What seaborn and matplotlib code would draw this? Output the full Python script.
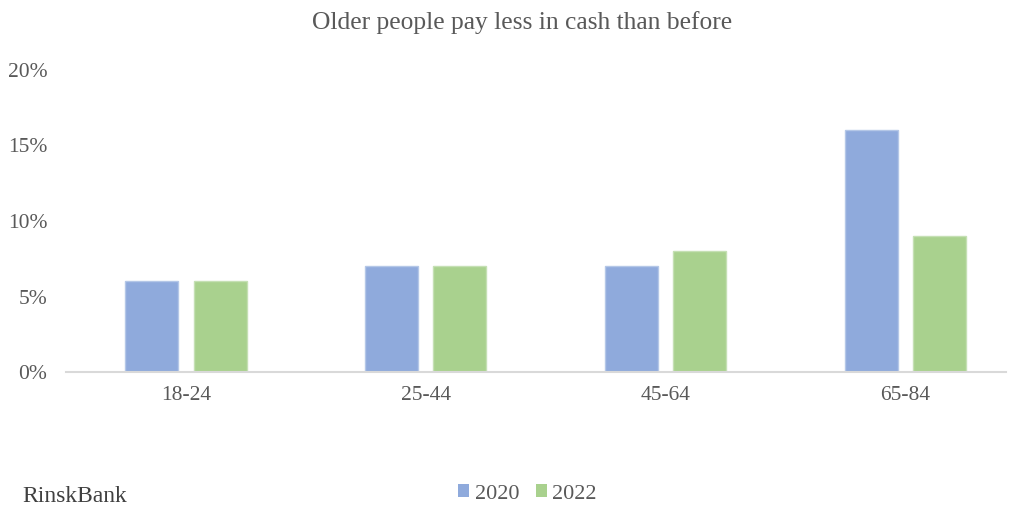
import matplotlib
matplotlib.use("Agg")
import matplotlib.pyplot as plt
import seaborn as sns
import pandas as pd
from matplotlib.ticker import FuncFormatter
from matplotlib.patches import Patch

categories = ["18-24", "25-44", "45-64", "65-84"]
values_2020 = [6, 7, 7, 16]
values_2022 = [6, 7, 8, 9]
series_names = ["2020", "2022"]
title = "Older people pay less in cash than before"
source = "RinskBank"

df = pd.DataFrame({
    "age": categories * 2,
    "value": values_2020 + values_2022,
    "year": [series_names[0]] * len(categories) + [series_names[1]] * len(categories),
})

sns.set_theme(style="white")
plt.rcParams["font.family"] = ["Liberation Serif", "DejaVu Serif"]
text_color = "#595959"

fig = plt.figure(figsize=(10.15, 5.13), dpi=100)
ax = fig.add_axes([66 / 1015, 1 - 372 / 513, 940 / 1015, (372 - 70) / 513])

palette = {"2020": "#8FAADC", "2022": "#A9D18E"}
edges = {"2020": "#B4C7E7", "2022": "#C5E0B4"}
sns.barplot(data=df, x="age", y="value", hue="year", palette=palette,
            width=0.57, gap=0.225, ax=ax, legend=False, saturation=1)
for cont, name in zip(ax.containers, series_names):
    for p in cont:
        p.set_edgecolor(edges[name])
        p.set_linewidth(1.0)

ax.set_ylim(0, 20)
ax.set_xlim(-0.5, 3.42)
ax.set_yticks([0, 5, 10, 15, 20])
ax.yaxis.set_major_formatter(FuncFormatter(lambda v, _: f"{int(v)}%"))
ax.set_xlabel("")
ax.set_ylabel("")
for s in ["top", "right", "left"]:
    ax.spines[s].set_visible(False)
ax.spines["bottom"].set_color("#D9D9D9")
ax.spines["bottom"].set_linewidth(1.5)
ax.tick_params(axis="both", length=0, labelsize=15.5, colors=text_color)
ax.tick_params(axis="x", pad=10)
ax.tick_params(axis="y", pad=13.5)
ax.grid(False)

fig.text(522 / 1015, 1 - 23 / 513, title, ha="center", va="center",
         fontsize=18.4, color=text_color)
fig.text(22 / 1015, 1 - 497 / 513, source, ha="left", va="center",
         fontsize=17, color="#404040")

handles = [Patch(facecolor=palette[n], edgecolor="none") for n in series_names]
fig.legend(handles, series_names, loc="center", bbox_to_anchor=(527.5 / 1015, 1 - 494 / 513),
           ncol=2, frameon=False, fontsize=16, handlelength=0.5, handleheight=0.5,
           handletextpad=0.25, columnspacing=0.72, labelcolor=text_color,
           borderpad=0, borderaxespad=0)

fig.savefig("out.png", dpi=100)
